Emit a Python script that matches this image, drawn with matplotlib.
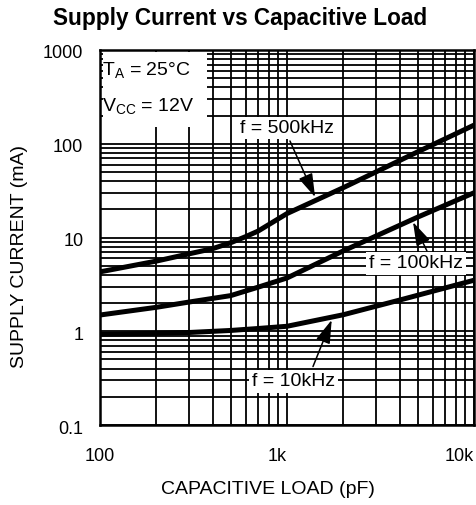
import matplotlib
matplotlib.use("Agg")
import matplotlib.pyplot as plt
import matplotlib.transforms as mtransforms
from matplotlib.patches import Rectangle

plt.rcParams['font.family'] = ['Liberation Sans', 'DejaVu Sans']

# ---- data ----
cap_500k = [100, 200, 300, 400, 500, 600, 700, 1000, 2000, 5000, 10000]
cur_500k = [4.3, 5.6, 6.7, 7.6, 8.8, 10.2, 11.7, 18, 34, 82, 158]

cap_100k = [100, 200, 300, 500, 700, 1000, 2000, 5000, 10000]
cur_100k = [1.49, 1.8, 2.05, 2.4, 2.95, 3.7, 7.2, 16.5, 30]

cap_10k = [100, 200, 300, 500, 700, 1000, 2000, 4000, 10000]
cur_10k = [0.93, 0.95, 0.97, 1.02, 1.07, 1.13, 1.5, 2.15, 3.5]

x_ticks = [100, 1000, 10000]
x_tick_labels = ["100", "1k", "10k"]
y_ticks = [0.1, 1, 10, 100, 1000]
y_tick_labels = ["0.1", "1", "10", "100", "1000"]

W, H = 477, 505
fig = plt.figure(figsize=(W / 100, H / 100), dpi=100)
ax = fig.add_axes([100 / W, 80 / H, 374 / W, 375 / H])

ax.set_xscale('log')
ax.set_yscale('log')
ax.set_xlim(100, 10000)
ax.set_ylim(0.1, 1000)

ax.set_axisbelow(True)
ax.grid(True, which='both', color='black', lw=1.3)
for s in ax.spines.values():
    s.set_linewidth(1.8)
ax.tick_params(which='both', length=0)

ax.set_xticks(x_ticks)
ax.set_xticklabels(x_tick_labels, fontsize=13)
ax.set_yticks(y_ticks)
ax.set_yticklabels(y_tick_labels, fontsize=13)
ax.tick_params(axis='x', pad=16.5)
ax.tick_params(axis='y', pad=12)
xl = ax.get_xticklabels()
xl[1].set_ha('right')
xl[2].set_ha('right')
for lab in ax.get_yticklabels():
    lab.set_transform(lab.get_transform() +
                      mtransforms.ScaledTranslation(0, -2 / 100, fig.dpi_scale_trans))

lw_curve = 3.6
ax.plot(cap_500k, cur_500k, color='black', lw=lw_curve, solid_capstyle='butt', zorder=3)
ax.plot(cap_100k, cur_100k, color='black', lw=lw_curve, solid_capstyle='butt', zorder=3)
ax.plot(cap_10k, cur_10k, color='black', lw=lw_curve, solid_capstyle='butt', zorder=3)

# condition box
ax.add_patch(Rectangle((3 / 374, (425 - 127) / 375), 104 / 374, 75 / 375,
                       transform=ax.transAxes, facecolor='white', edgecolor='none', zorder=1.5))
ax.text(2 / 374, (425 - 71) / 375, "T$_\\mathregular{A}$ = 25°C",
        transform=ax.transAxes, fontsize=14, va='center', ha='left', zorder=4)
ax.text(2 / 374, (425 - 107) / 375, "V$_\\mathregular{CC}$ = 12V",
        transform=ax.transAxes, fontsize=14, va='center', ha='left', zorder=4)

bbox = dict(boxstyle='square,pad=0.15', facecolor='white', edgecolor='none')
arrow = dict(arrowstyle='-|>,head_length=0.8,head_width=0.25', color='black', lw=1.1,
             mutation_scale=18, shrinkA=0, shrinkB=0)

ax.text(1000, 147, "f = 500kHz", fontsize=14, ha='center', va='center', bbox=bbox, zorder=4)
ax.annotate('', xy=(1413, 27), xytext=(1037, 107), arrowprops=arrow, zorder=4)

ax.text(4900, 5.3, "f = 100kHz", fontsize=14, ha='center', va='center', bbox=bbox, zorder=4)
ax.annotate('', xy=(4720, 14.6), xytext=(5600, 7.2), arrowprops=arrow, zorder=4)

ax.text(1089, 0.294, "f = 10kHz", fontsize=14, ha='center', va='center', bbox=bbox, zorder=4)
ax.annotate('', xy=(1734, 1.32), xytext=(1377, 0.42), arrowprops=arrow, zorder=4)

fig.text(240 / W, 1 - 18 / H, "Supply Current vs Capacitive Load", fontsize=16.3,
         fontweight='bold', ha='center', va='center')
fig.text(268 / W, 1 - 490 / H, "CAPACITIVE LOAD (pF)", fontsize=14, ha='center', va='center')
fig.text(20 / W, 1 - 256 / H, "SUPPLY CURRENT (mA)", fontsize=14, ha='center', va='center',
         rotation=90)

fig.savefig("out.png", dpi=100)
